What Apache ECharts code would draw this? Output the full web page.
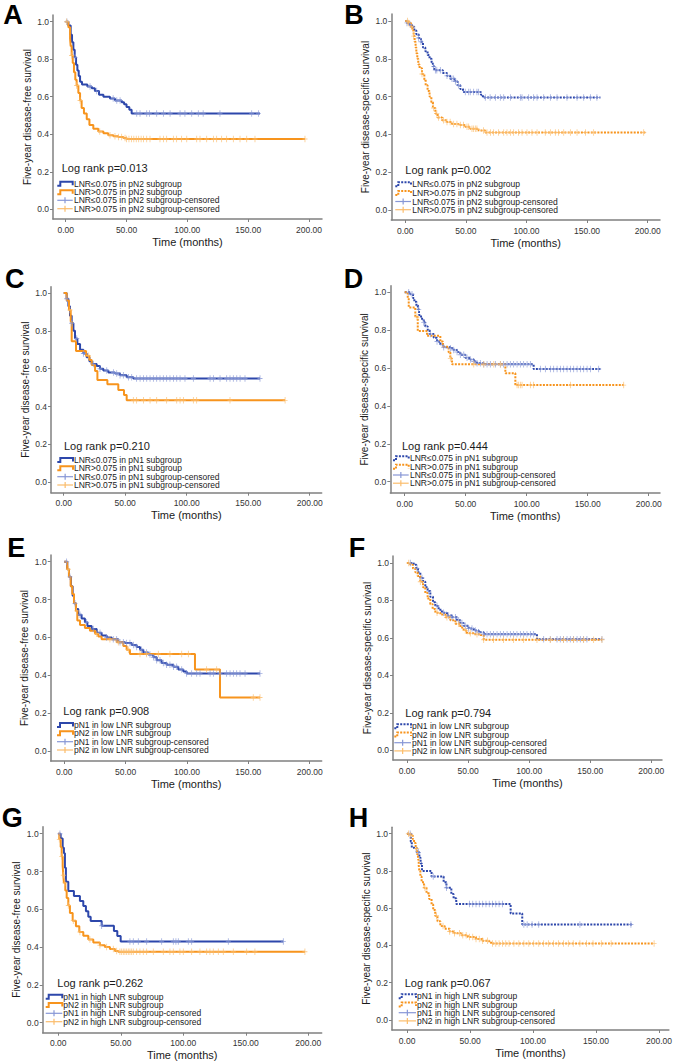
<!DOCTYPE html>
<html><head><meta charset="utf-8">
<script src="https://cdn.jsdelivr.net/npm/echarts@6/dist/echarts.min.js"></script>
<style>html,body{margin:0;padding:0;background:#fff}#c{width:675px;height:1063px}</style>
</head><body><div id="c"></div><script>
// ---------- tick labels ----------
const xTicks = [0, 50, 100, 150, 200];
const yTicks = [0, 0.2, 0.4, 0.6, 0.8, 1.0];

// ---------- Panel A (DFS, pN2 subgroup) ----------
const A_blueT = [0, 2.2, 4.1, 5.2, 6.3, 7.4, 8.5, 9.6, 10.7, 11.8, 13.4, 17.8, 21.4, 24, 27.4, 31, 36.4, 40.5, 46, 48, 50, 52.3, 54.2, 159.7];
const A_blueS = [1, 0.98, 0.93, 0.89, 0.85, 0.81, 0.77, 0.74, 0.71, 0.68, 0.665, 0.655, 0.645, 0.63, 0.61, 0.60, 0.59, 0.58, 0.57, 0.56, 0.545, 0.53, 0.51, 0.51];
const A_blueC = [1, 7.7, 20, 25.5, 39, 42, 44.7, 58.4, 61.1, 66.6, 68.8, 74.8, 80.3, 85.8, 94, 98, 103.6, 109, 113, 126.8, 152.9, 158.4];
const A_oranT = [0, 2.2, 3.6, 4.1, 4.9, 5.8, 6.8, 7.9, 9, 10.4, 11.8, 13.1, 15, 17.3, 19.5, 22.7, 26.8, 31, 35, 39.2, 43.3, 47.4, 50, 196.7];
const A_oranS = [1, 0.97, 0.91, 0.87, 0.82, 0.78, 0.73, 0.69, 0.66, 0.62, 0.58, 0.54, 0.51, 0.48, 0.45, 0.43, 0.415, 0.405, 0.395, 0.39, 0.385, 0.38, 0.375, 0.375];
const A_oranC = [0.8, 4.9, 9, 11.8, 28, 36.4, 40.5, 43.3, 46, 48.8, 50, 52, 54, 56, 58, 60, 62, 64, 66.6, 69.3, 77.5, 80.3, 83, 88.5, 91.2, 95.3, 99.5, 107.7, 110.4, 115.9, 121.4, 124.1, 128.2, 132.3, 137.8, 143.3, 148.8, 155.6, 196.7];

// ---------- Panel B (DSS, pN2 subgroup) ----------
const B_blueT = [0, 1.4, 3.6, 5.5, 7.4, 9.1, 11, 12.9, 14.6, 16.5, 18.4, 20, 21.7, 22.8, 23.9, 31, 34.4, 37, 41.3, 43.2, 45.4, 47.6, 62.4, 64, 161];
const B_blueS = [1, 0.99, 0.98, 0.97, 0.95, 0.93, 0.91, 0.89, 0.86, 0.84, 0.82, 0.80, 0.78, 0.76, 0.74, 0.725, 0.71, 0.695, 0.68, 0.66, 0.64, 0.625, 0.61, 0.595, 0.595];
const B_blueC = [1.4, 4.1, 11, 12.9, 23.4, 24.8, 26, 28.9, 34.4, 38.5, 39.9, 41.3, 44, 49.5, 52.3, 53.6, 56.4, 59.1, 60.5, 66, 70, 74.3, 78.4, 81.2, 86.7, 94.9, 96.3, 101.8, 105.9, 108.7, 114.2, 119.7, 125.2, 133.4, 141.7, 147.2, 152.7, 158.1];
const B_oranT = [0, 2.75, 4.7, 5.8, 6.9, 7.7, 8.5, 9.1, 9.9, 10.7, 11.8, 13.8, 15.7, 16.8, 18.4, 20, 21.5, 22.8, 24.8, 26.7, 30.3, 34.4, 38.5, 44, 49.5, 53.6, 60.5, 66, 198];
const B_oranS = [1, 0.99, 0.97, 0.95, 0.92, 0.89, 0.86, 0.83, 0.80, 0.77, 0.75, 0.72, 0.69, 0.66, 0.63, 0.60, 0.57, 0.54, 0.51, 0.49, 0.475, 0.465, 0.455, 0.45, 0.44, 0.43, 0.42, 0.41, 0.41];
const B_oranC = [1.9, 2.75, 5.5, 6.9, 13.8, 23.4, 26, 27.5, 31.6, 34.4, 37, 39.9, 42.6, 45.4, 48.1, 50.9, 52.3, 55, 56.4, 57.8, 59.1, 64.6, 67.4, 70.2, 72.9, 77, 81.2, 83.9, 86.7, 89.4, 93.5, 96.3, 100.4, 104.5, 108.7, 115.5, 119.7, 123.8, 126.5, 130.7, 136.2, 141.7, 148.6, 155.4, 196.7];

// ---------- Panel C (DFS, pN1 subgroup) ----------
const C_blueT = [0, 2.4, 3.8, 5.1, 6.5, 7.9, 9.2, 11.1, 13.3, 16, 18.7, 20.9, 22.8, 26.8, 29.5, 32.2, 36.3, 41.7, 45.8, 51.2, 56.6, 159.6];
const C_blueS = [1, 0.97, 0.93, 0.88, 0.84, 0.80, 0.76, 0.73, 0.70, 0.68, 0.66, 0.64, 0.625, 0.615, 0.60, 0.59, 0.58, 0.575, 0.565, 0.555, 0.548, 0.548];
const C_blueC = [2.4, 6.5, 10.6, 16, 24.1, 29.5, 35, 40.4, 43.1, 45.8, 48.5, 52.6, 55.3, 59.3, 62.1, 64.8, 67.5, 70.2, 72.9, 75.6, 78.3, 81, 83.7, 86.4, 89.2, 91.9, 94.6, 98.6, 105.4, 119, 121.7, 127.1, 132.5, 135.2, 137.9, 140.7, 143.4, 147.4, 159.6];
const C_oranT = [0, 2.4, 4.3, 5.7, 6.5, 10, 18.2, 20.9, 22.8, 25.5, 27.4, 35.5, 44.4, 49, 51.2, 180];
const C_oranS = [1, 0.96, 0.91, 0.85, 0.745, 0.694, 0.669, 0.646, 0.62, 0.588, 0.54, 0.518, 0.488, 0.461, 0.433, 0.433];
const C_oranC = [5.1, 20, 56.6, 59.3, 64.8, 70.2, 75.6, 83.7, 91.9, 94.6, 97.3, 105.4, 108.1, 135.2, 180];

// ---------- Panel D (DSS, pN1 subgroup) ----------
const D_blueT = [0, 4.6, 6.8, 7.9, 9.6, 10.9, 11.7, 13.4, 15.6, 16.9, 18.9, 20.5, 23.8, 26.5, 29.2, 32, 37.4, 40.2, 42.9, 45.6, 49.7, 53.8, 56.6, 59.3, 64.8, 105.7, 160.4];
const D_blueS = [1, 0.99, 0.97, 0.95, 0.93, 0.91, 0.88, 0.86, 0.84, 0.82, 0.80, 0.78, 0.76, 0.74, 0.725, 0.71, 0.705, 0.695, 0.685, 0.67, 0.655, 0.645, 0.635, 0.625, 0.62, 0.595, 0.595];
const D_blueC = [3.3, 6, 11.5, 15.6, 21, 26.5, 32, 37.4, 40.2, 42.9, 45.6, 48.4, 51.1, 53.8, 56.6, 59.3, 62, 64.8, 67.5, 70.2, 74.3, 78.4, 81.1, 83.9, 86.6, 89.3, 92.1, 94.8, 97.5, 100.3, 103, 111.2, 115.3, 119.4, 122.1, 124.9, 127.6, 130.3, 133.1, 135.8, 138.5, 141.3, 144, 146.7, 149.5, 152.2, 159];
const D_oranT = [0, 2.5, 3.3, 8.7, 10.7, 18.3, 29.2, 31.4, 36, 37.4, 38.8, 82.5, 90.7, 179.5];
const D_oranS = [1, 0.97, 0.92, 0.87, 0.796, 0.77, 0.74, 0.713, 0.683, 0.651, 0.62, 0.572, 0.51, 0.51];
const D_oranC = [10.1, 37.4, 56.6, 64.8, 73, 78.4, 92.1, 93.4, 94.8, 96.2, 103, 105.7, 135.8, 179.5];

// ---------- Panel E (DFS, low LNR subgroup) ----------
const E_blueT = [0, 2.4, 3.8, 5.4, 6.8, 7.9, 9.5, 11.4, 14.1, 16.8, 18.8, 22.3, 26.4, 30.4, 34.5, 38.6, 44, 49.5, 54.9, 59, 61.7, 64.4, 68.5, 72.6, 75.3, 79.3, 83.4, 88.9, 92.9, 97, 99.7, 159.5];
const E_blueS = [1, 0.96, 0.92, 0.87, 0.82, 0.78, 0.75, 0.72, 0.70, 0.68, 0.66, 0.645, 0.625, 0.61, 0.60, 0.59, 0.575, 0.57, 0.56, 0.55, 0.535, 0.52, 0.51, 0.495, 0.48, 0.465, 0.455, 0.445, 0.43, 0.42, 0.41, 0.41];
const E_blueC = [1.9, 4.6, 8.7, 12.8, 18.2, 23.6, 29.1, 34.5, 39.9, 42.7, 45.4, 48.1, 50.8, 53.5, 56.3, 59, 63, 67.1, 69.8, 72.6, 75.3, 78, 80.7, 83.4, 86.1, 88.9, 91.6, 95.7, 99.7, 103.8, 107.9, 110.6, 118.8, 121.5, 126.9, 132.3, 135.1, 137.8, 140.5, 143.2, 147.3, 159.5];
const E_oranT = [0, 2.4, 3.8, 5.2, 6.5, 7.9, 9.5, 10.6, 12.8, 16.8, 20.9, 25, 27.7, 30.4, 42.7, 48.1, 50.8, 53.5, 106.5, 126.9, 159.5];
const E_oranS = [1, 0.96, 0.92, 0.87, 0.83, 0.78, 0.74, 0.69, 0.665, 0.65, 0.635, 0.62, 0.605, 0.59, 0.575, 0.555, 0.535, 0.512, 0.431, 0.283, 0.283];
const E_oranC = [3.3, 10.1, 26.4, 37.2, 44, 52.2, 61.7, 67.1, 76.6, 86.1, 95.7, 101.1, 116, 124.2, 154, 159.5];

// ---------- Panel F (DSS, low LNR subgroup) ----------
const F_blueT = [0, 5.5, 7.6, 9, 10.9, 13.1, 15, 16.9, 19.1, 21.3, 23.2, 25.9, 28.6, 32.7, 36.8, 40.9, 43.7, 46.4, 50.5, 54.6, 58.7, 62.8, 106.4, 159.6];
const F_blueS = [1, 0.99, 0.97, 0.95, 0.92, 0.90, 0.87, 0.85, 0.82, 0.79, 0.77, 0.75, 0.735, 0.72, 0.71, 0.695, 0.68, 0.665, 0.65, 0.64, 0.63, 0.62, 0.593, 0.593];
const F_blueC = [2.7, 8.2, 12.3, 17.7, 24.6, 30, 34.1, 36.8, 39.6, 42.3, 45, 47.7, 50.5, 53.2, 55.9, 58.7, 62.8, 65.5, 68.2, 70.9, 73.7, 76.4, 79.1, 81.9, 84.6, 87.3, 90, 92.8, 95.5, 98.2, 101, 103.7, 111.9, 117.3, 122.8, 125.5, 128.2, 131, 133.7, 136.4, 139.2, 141.9, 144.6, 147.3, 159.6];
const F_oranT = [0, 2.7, 4.9, 6.8, 8.7, 10.9, 13.1, 15, 16.9, 19.1, 21, 23.2, 27.3, 31.4, 35.5, 39.6, 43.7, 46.4, 49.1, 54.6, 60, 62.8, 159.6];
const F_oranS = [1, 0.99, 0.97, 0.95, 0.93, 0.90, 0.87, 0.84, 0.81, 0.78, 0.755, 0.735, 0.725, 0.71, 0.695, 0.675, 0.655, 0.64, 0.625, 0.62, 0.615, 0.59, 0.59];
const F_oranC = [1.4, 10.9, 24.6, 32.7, 42.3, 47.7, 51.8, 57.3, 62.8, 70.9, 79.1, 87.3, 95.5, 106.4, 117.3, 128.2, 136.4, 144.6, 152.8, 159.6];

// ---------- Panel G (DFS, high LNR subgroup) ----------
const G_blueT = [0, 1.9, 3.5, 4.5, 5.3, 6.1, 8, 12.5, 17.3, 20, 22.1, 24, 25.9, 34.7, 44.5, 47.2, 49.9, 180];
const G_blueS = [1, 0.975, 0.926, 0.896, 0.82, 0.746, 0.697, 0.67, 0.644, 0.617, 0.59, 0.56, 0.538, 0.513, 0.485, 0.459, 0.429, 0.429];
const G_blueC = [1.3, 34.7, 57.3, 60, 64, 70.7, 82.7, 92, 94.1, 96, 104, 106.7, 136, 180];
const G_oranT = [0, 0.8, 1.9, 2.7, 3.5, 4, 4.5, 5.6, 6.7, 8, 9.3, 11.5, 14.1, 16.8, 20, 24, 28, 33.3, 37.3, 41.3, 45.3, 48, 197.3];
const G_oranS = [1, 0.97, 0.93, 0.88, 0.83, 0.78, 0.74, 0.70, 0.66, 0.62, 0.58, 0.54, 0.51, 0.48, 0.46, 0.44, 0.425, 0.41, 0.40, 0.39, 0.38, 0.375, 0.375];
const G_oranC = [0.8, 2.7, 4, 5.3, 8, 12, 17.3, 25.3, 33.3, 38.7, 44, 46.7, 49.3, 50.7, 52, 53.3, 54.7, 56, 57.3, 58.7, 60, 62.7, 65.3, 68, 70.7, 76, 84, 89.3, 92, 97.3, 100, 106.7, 113.3, 118.7, 121.3, 124, 128, 132, 140, 150.7, 157.3, 197.3];

// ---------- Panel H (DSS, high LNR subgroup) ----------
const H_blueT = [0, 2.9, 3.7, 7.6, 9.7, 10.7, 11.8, 19.4, 29, 31.2, 35.1, 36.9, 39, 82.2, 91.4, 179];
const H_blueS = [1, 0.957, 0.925, 0.90, 0.871, 0.84, 0.80, 0.77, 0.74, 0.71, 0.676, 0.653, 0.623, 0.572, 0.513, 0.513];
const H_blueC = [2.4, 8.9, 20.7, 31.2, 49.5, 52.1, 54.7, 57.3, 60, 62.6, 65.2, 67.8, 70.4, 73, 75.7, 92.7, 95.3, 99.2, 104.5, 137.2, 177.7];
const H_oranT = [0, 2.9, 4.5, 5.5, 6.8, 7.9, 8.6, 9.2, 9.7, 10.5, 11.5, 13.4, 15.4, 17.5, 19.4, 20.7, 22.3, 24.1, 26.4, 29.8, 33.8, 37.7, 42.9, 48.2, 54.7, 59.9, 65.2, 67.8, 196];
const H_oranS = [1, 0.99, 0.97, 0.95, 0.92, 0.89, 0.86, 0.83, 0.80, 0.77, 0.74, 0.71, 0.68, 0.65, 0.62, 0.59, 0.56, 0.53, 0.505, 0.49, 0.475, 0.465, 0.455, 0.445, 0.435, 0.425, 0.415, 0.41, 0.41];
const H_oranC = [1, 2.9, 7.6, 14.1, 23.3, 28.5, 33.8, 37.7, 41.6, 44.2, 46.9, 49.5, 52.1, 54.7, 57.3, 60, 63.9, 67.8, 70.4, 73, 75.7, 78.3, 80.9, 84.8, 88.7, 92.7, 96.6, 100.5, 104.5, 108.4, 112.3, 116.2, 120.2, 124.1, 128, 131.9, 137.2, 142.4, 147.6, 154.2, 162, 196.1];

// ---------- texts ----------
const panelLetters = ['A', 'B', 'C', 'D', 'E', 'F', 'G', 'H'];
const logRanks = ['Log rank p=0.013', 'Log rank p=0.002', 'Log rank p=0.210', 'Log rank p=0.444', 'Log rank p=0.908', 'Log rank p=0.794', 'Log rank p=0.262', 'Log rank p=0.067'];
const namesPN2 = ['LNR\u22640.075 in pN2 subgroup', 'LNR>0.075 in pN2 subgroup', 'LNR\u22640.075 in pN2 subgroup-censored', 'LNR>0.075 in pN2 subgroup-censored'];
const namesPN1 = ['LNR\u22640.075 in pN1 subgroup', 'LNR>0.075 in pN1 subgroup', 'LNR\u22640.075 in pN1 subgroup-censored', 'LNR>0.075 in pN1 subgroup-censored'];
const namesLow = ['pN1 in low LNR subgroup', 'pN2 in low LNR subgroup', 'pN1 in low LNR subgroup-censored', 'pN2 in low LNR subgroup-censored'];
const namesHigh = ['pN1 in high LNR subgroup', 'pN2 in high LNR subgroup', 'pN1 in high LNR subgroup-censored', 'pN2 in high LNR subgroup-censored'];
const yNameDFS = 'Five-year disease-free survival';
const yNameDSS = 'Five-year disease-specific survival';
const xName = 'Time (months)';

// ---------- layout (pixel positions; not data) ----------
const layouts = [
  {axL:53, axR:322, axT:15, axB:219, px0:65.7, px200:309, py1:21.7, py0:209.3, letter:[3.3,14.5], lr:[61.7,168.3], rows:[183.7,192.3,200.3,208.7], icon:[57.3,72.7], tx:74},
  {axL:391.3, axR:660, axT:14, axB:220, px0:405.3, px200:647.7, py1:21, py0:210, letter:[344.3,14.5], lr:[405.3,170], rows:[184.3,193,201.5,209.7], icon:[395.3,411], tx:412.3},
  {axL:51, axR:321.7, axT:286.7, axB:492.7, px0:63.7, px200:309.7, py1:293, py0:482.3, letter:[5,279.2], lr:[64,445.7], rows:[460,468.2,476.7,485], icon:[57.3,73], tx:74},
  {axL:390.3, axR:660, axT:285.7, axB:493, px0:404.7, px200:648.7, py1:292.3, py0:481.7, letter:[343.7,279.2], lr:[402,445.7], rows:[458.3,466.7,475,483.2], icon:[393,408.7], tx:410},
  {axL:50.7, axR:321.7, axT:555, axB:761, px0:64.3, px200:309.7, py1:561.7, py0:751, letter:[7.3,547.5], lr:[63.3,711], rows:[725,733.3,741.7,750], icon:[57,73], tx:74},
  {axL:393, axR:662, axT:556, axB:760, px0:407, px200:651.3, py1:563, py0:750.3, letter:[348.7,547.5], lr:[405.3,712.7], rows:[726.3,734.5,742.7,750.9], icon:[394.3,411], tx:412},
  {axL:42.7, axR:321.7, axT:826.7, axB:1032.7, px0:58.3, px200:308.3, py1:833.7, py0:1022.7, letter:[1.7,818.3], lr:[57.3,983.3], rows:[996.7,1005,1013.3,1021.7], icon:[45.7,62.3], tx:63.3},
  {axL:392, axR:672, axT:827.3, axB:1030, px0:407.3, px200:662, py1:833.7, py0:1020, letter:[348.7,818.3], lr:[404.7,983.3], rows:[996.2,1004.5,1012.7,1020.9], icon:[398.7,416], tx:417}
];

const panels = [
  {blue:[A_blueT, A_blueS, A_blueC], oran:[A_oranT, A_oranS, A_oranC], dotted:false, names:namesPN2, yName:yNameDFS},
  {blue:[B_blueT, B_blueS, B_blueC], oran:[B_oranT, B_oranS, B_oranC], dotted:true, names:namesPN2, yName:yNameDSS},
  {blue:[C_blueT, C_blueS, C_blueC], oran:[C_oranT, C_oranS, C_oranC], dotted:false, names:namesPN1, yName:yNameDFS},
  {blue:[D_blueT, D_blueS, D_blueC], oran:[D_oranT, D_oranS, D_oranC], dotted:true, names:namesPN1, yName:yNameDSS},
  {blue:[E_blueT, E_blueS, E_blueC], oran:[E_oranT, E_oranS, E_oranC], dotted:false, names:namesLow, yName:yNameDFS},
  {blue:[F_blueT, F_blueS, F_blueC], oran:[F_oranT, F_oranS, F_oranC], dotted:true, names:namesLow, yName:yNameDSS},
  {blue:[G_blueT, G_blueS, G_blueC], oran:[G_oranT, G_oranS, G_oranC], dotted:false, names:namesHigh, yName:yNameDFS},
  {blue:[H_blueT, H_blueS, H_blueC], oran:[H_oranT, H_oranS, H_oranC], dotted:true, names:namesHigh, yName:yNameDSS}
];

// ---------- styles ----------
const FONT = '"Liberation Sans", Arial, Helvetica, sans-serif';
const BLUE = '#2d47ab', ORANGE = '#f7941d';
const BLUE_L = '#8797d6', ORANGE_L = '#fbbd6c';
const AXIS = '#808080';
const DOT = [2, 1.3];
const CROSS = 'path://M0,4.3H10V5.7H0Z M4.2,0H5.8V10H4.2Z';

function survAt(T, S, t) {
  let v = S[0];
  for (let k = 0; k < T.length; k++) if (T[k] <= t) v = S[k];
  return v;
}

const grids = [], xAxes = [], yAxes = [], series = [], graphics = [];
panels.forEach((p, i) => {
  const L = layouts[i];
  const sx = (L.px200 - L.px0) / 200;
  const sy = (L.py0 - L.py1);
  const xmin = -(L.px0 - L.axL) / sx;
  const xmax = 200 + (L.axR - L.px200) / sx;
  const ymin = -(L.axB - L.py0) / sy;
  const ymax = 1 + (L.py1 - L.axT) / sy;
  grids.push({left: L.axL, top: L.axT, width: L.axR - L.axL, height: L.axB - L.axT, containLabel: false});
  xAxes.push({
    gridIndex: i, type: 'value', min: xmin, max: xmax,
    name: xName, nameLocation: 'middle', nameGap: 17,
    nameTextStyle: {fontFamily: FONT, fontSize: 11, color: '#1a1a1a'},
    axisLine: {onZero: false, lineStyle: {color: AXIS, width: 1.5}},
    axisTick: {show: true, length: 3, lineStyle: {color: AXIS, width: 1}, customValues: xTicks},
    axisLabel: {customValues: xTicks, formatter: v => v.toFixed(2), fontFamily: FONT, fontSize: 8.5, color: '#333', margin: 6},
    splitLine: {show: false}
  });
  yAxes.push({
    gridIndex: i, type: 'value', min: ymin, max: ymax,
    name: p.yName, nameLocation: 'middle', nameGap: 21, nameRotate: 90,
    nameTextStyle: {fontFamily: FONT, fontSize: 10, color: '#1a1a1a'},
    axisLine: {onZero: false, show: true, lineStyle: {color: AXIS, width: 1.5}},
    axisTick: {show: true, length: 3, lineStyle: {color: AXIS, width: 1}, customValues: yTicks},
    axisLabel: {customValues: yTicks, formatter: v => v.toFixed(1), fontFamily: FONT, fontSize: 8.5, color: '#333', margin: 4},
    splitLine: {show: false}
  });
  const lt = p.dotted ? DOT : 'solid';
  [[p.blue, BLUE, 0], [p.oran, ORANGE, 1]].forEach(([d, c, k]) => {
    const [T, S] = d;
    series.push({
      type: 'line', name: p.names[k], xAxisIndex: i, yAxisIndex: i,
      data: T.map((t, j) => [t, S[j]]), step: 'end', showSymbol: false, symbol: 'none',
      lineStyle: {color: c, width: 2, type: lt}, itemStyle: {color: c}, z: 2, silent: true
    });
  });
  [[p.blue, BLUE_L, 2], [p.oran, ORANGE_L, 3]].forEach(([d, cl, k]) => {
    const [T, S, C] = d;
    series.push({
      type: 'scatter', name: p.names[k], xAxisIndex: i, yAxisIndex: i,
      data: C.map(t => [t, survAt(T, S, t)]), symbol: CROSS, symbolSize: [5, 6.5],
      itemStyle: {color: cl}, z: 3, silent: true
    });
  });
  graphics.push({type: 'text', x: L.letter[0], y: L.letter[1], style: {text: panelLetters[i], font: 'bold 27px ' + FONT, fill: '#000', textAlign: 'left', textVerticalAlign: 'middle'}});
  graphics.push({type: 'text', x: L.lr[0], y: L.lr[1], style: {text: logRanks[i], font: '11px ' + FONT, fill: '#1a1a1a', textAlign: 'left', textVerticalAlign: 'middle'}});
  const x0 = L.icon[0], x1 = L.icon[1];
  [[BLUE, 0], [ORANGE, 1]].forEach(([c, k]) => {
    const y = L.rows[k];
    graphics.push({type: 'polyline', shape: {points: [[x0, y + 2], [x0 + 3, y + 2], [x0 + 3, y - 2], [x1, y - 2], [x1, y + 1.5]]},
      style: {stroke: c, lineWidth: 2, fill: null, lineDash: p.dotted ? DOT : null}});
  });
  [[BLUE_L, 2], [ORANGE_L, 3]].forEach(([c, k]) => {
    const y = L.rows[k], xm = (x0 + x1) / 2;
    graphics.push({type: 'line', shape: {x1: x0, y1: y, x2: x1, y2: y}, style: {stroke: c, lineWidth: 1.2}});
    graphics.push({type: 'line', shape: {x1: xm, y1: y - 3, x2: xm, y2: y + 3}, style: {stroke: c, lineWidth: 1.2}});
  });
  p.names.forEach((n, k) => {
    graphics.push({type: 'text', x: L.tx, y: L.rows[k], style: {text: n, font: '8.5px ' + FONT, fill: '#222', textAlign: 'left', textVerticalAlign: 'middle'}});
  });
});

const chart = echarts.init(document.getElementById('c'), null, {renderer: 'svg', width: 675, height: 1063});
chart.setOption({
  animation: false,
  backgroundColor: '#fff',
  grid: grids, xAxis: xAxes, yAxis: yAxes, series: series,
  graphic: graphics
});
</script></body></html>
